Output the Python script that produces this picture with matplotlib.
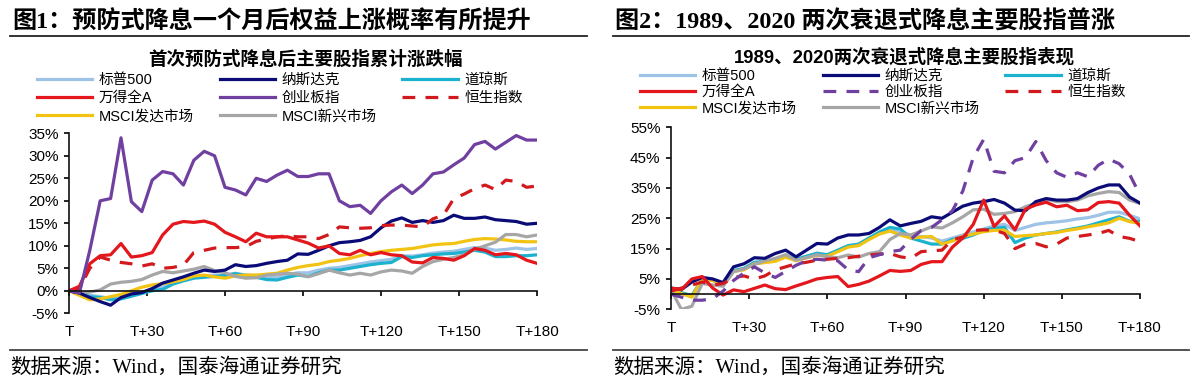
import numpy as np
import matplotlib
matplotlib.use("Agg")
import matplotlib.pyplot as plt
from matplotlib.lines import Line2D

plt.rcParams['font.family'] = ['Liberation Sans', 'Noto Sans CJK SC', 'DejaVu Sans']

# trading-day offsets after the cut, read every 4 days
days = np.arange(0, 181, 4)
xticks = [0, 30, 60, 90, 120, 150, 180]
xticklabels = ['T', 'T+30', 'T+60', 'T+90', 'T+120', 'T+150', 'T+180']

names = ['标普500', '纳斯达克', '道琼斯', '万得全A', '创业板指', '恒生指数', 'MSCI发达市场', 'MSCI新兴市场']

# chart 1: first preventive cut (%)
l_spx = [0, -0.3, -1, -1.3, -1.7, -1.4, -0.9, -0.3, 0.3, 0.8, 1.8, 2.5, 3, 3.3, 3.5, 3.5, 3.9, 3.5, 3.4, 3, 3, 3.6, 4, 4, 4.6, 5, 5.2, 5.6, 6, 6.4, 6.7, 7, 7.8, 7.7, 8, 8.4, 8.6, 8.8, 9.2, 9.6, 9.5, 9, 9.2, 9.5, 9.2, 9.4]
l_ndx = [0, -0.5, -1.5, -2.4, -3.2, -1.5, -0.7, -0.4, 0.5, 1.7, 2.4, 3.1, 3.9, 4.6, 4.3, 4.6, 5.8, 5.4, 5.6, 6.1, 6.5, 6.8, 8.2, 8.1, 9, 10, 10.7, 10.9, 11.2, 12, 14, 15.5, 16.2, 15.2, 15.6, 15.2, 15.6, 16.8, 16.1, 16.1, 16.4, 15.8, 15.6, 15.4, 14.8, 15]
l_dji = [0, -0.5, -1.3, -1.5, -2, -1.8, -1.2, -0.6, 0, 0.3, 1.5, 2.2, 2.8, 3, 3.2, 3.4, 3.8, 3.4, 3, 2.5, 2.4, 3, 3.5, 3.2, 4, 4.6, 4.6, 5, 5.4, 5.8, 6.1, 6.3, 7.6, 7.4, 7.8, 8, 8.2, 8.3, 8.6, 9, 8.6, 7.6, 7.6, 7.8, 7.8, 8]
l_wind = [0, 1, 6, 7.8, 8, 10.5, 7.5, 7.8, 8.5, 12.4, 14.8, 15.4, 15.2, 15.5, 14.8, 13, 12, 10.9, 12.8, 12, 12, 12, 11.3, 10.6, 9.5, 10, 8.3, 8, 9, 8, 8.5, 8, 7.8, 6.4, 6.2, 7.4, 7.2, 6.8, 7.8, 9.4, 9, 8, 8.3, 8, 6.8, 6.1]
l_cyb = [0, -0.5, 9, 20, 20.5, 34, 19.8, 17.6, 24.6, 26.5, 26, 23.5, 29, 31, 30, 23, 22.4, 21.3, 25, 24.3, 25.7, 26.8, 25.4, 25.4, 26, 26, 20, 18.7, 19, 17.2, 20, 22, 23.5, 21.6, 23.5, 26, 26.4, 28, 29.5, 32.5, 33.2, 31.5, 33, 34.5, 33.5, 33.5]
l_hsi = [0, 0.5, 5, 7.5, 6.8, 6.3, 6, 5.5, 6, 5, 5.2, 5.7, 8.5, 9, 9.5, 9.6, 9.6, 9.8, 11, 11.5, 12, 12.2, 12, 12, 11.6, 12.5, 14.2, 14, 13.9, 14, 14.5, 14.6, 14.6, 14.4, 14.2, 16, 16.8, 20.5, 21.5, 22.7, 23.5, 22.5, 24.6, 24.3, 23, 23.3]
l_dm = [0, -1, -2, -1.8, -1.3, -0.8, 0, 0.8, 1.3, 1.6, 2, 2.5, 3.3, 3.5, 3.1, 2.8, 3.3, 3.5, 3.5, 3.7, 3.9, 4.6, 5.2, 5.6, 5.9, 6.5, 6.8, 7.2, 7.8, 8.3, 8.7, 9, 9.2, 9.4, 9.8, 10.2, 10.4, 10.5, 11, 11.4, 11.6, 11.5, 11.3, 11, 10.9, 10.9]
l_em = [0, -0.5, -0.3, 0.2, 1.5, 1.9, 2.1, 2.5, 3.5, 4.3, 4, 4.4, 4.8, 5.4, 4.5, 4, 3.2, 2.8, 2.9, 3.5, 3.7, 3.9, 3.7, 3.1, 3.8, 4.6, 4, 3.5, 3.9, 3.5, 4.2, 4.6, 4.4, 3.9, 5.4, 6.5, 7, 7.4, 8, 9.2, 10, 10.8, 12.5, 12.5, 12, 12.4]

# chart 2: 1989 / 2020 recession cuts (%)
r_spx = [1.5, 0.3, -0.8, 4.8, 4.5, 2.8, 7.5, 8.2, 10.2, 10.5, 11.2, 12.5, 11.3, 12.2, 13.2, 12.8, 14.2, 15.8, 16.3, 18.3, 20.2, 21.5, 20.5, 19.5, 19, 18.5, 17.5, 18.5, 19.5, 20.5, 21.5, 22.5, 23, 21, 22, 23, 23.5, 23.8, 24.2, 24.8, 25.2, 26, 27, 27, 26, 24.8]
r_ndx = [2, 1.5, 4, 5.5, 5, 3.8, 9, 10, 12, 11.8, 13.4, 14.5, 12.3, 14.5, 16.7, 16.5, 18.5, 19.5, 19.5, 20, 22, 24.5, 22.5, 23.3, 24, 25.5, 25, 27, 29, 30, 30.5, 31.2, 30, 27.7, 27.5, 30.5, 31.5, 31, 31, 31.5, 33.5, 35, 36, 36, 32, 30]
r_dji = [1.5, 0.5, -0.5, 5, 4.8, 3, 7.8, 8.5, 10.5, 10.8, 11.5, 12.8, 11.5, 12.5, 13.5, 13, 14.5, 16, 16.5, 18.5, 20.5, 22, 21.5, 18.5, 17.5, 16.5, 16.5, 18, 18.4, 19.5, 21, 21.8, 22, 17, 18.5, 19.5, 20, 20.5, 21.2, 21.8, 22.5, 23.5, 24.5, 25.5, 24, 24]
r_wind = [2, 1.5, 5, 5.8, 2, -0.3, 1.4, 0.8, 1.9, 3, 1.8, 1.5, 2.7, 3.8, 5, 5.5, 5.8, 2.5, 3.2, 4.3, 6, 7.8, 7.5, 7.8, 9.8, 10.7, 10.7, 15.5, 18.5, 23, 31, 22.3, 25.8, 21.2, 28, 29.4, 30.3, 28.8, 29.3, 27.5, 27.8, 30.2, 30.5, 30, 26, 22.5]
r_cyb = [0, -1, -2, -2, -1.5, 1, 4.5, 7, 9, 7, 5.5, 7.5, 9.5, 11, 11.5, 11.2, 11, 8, 7.4, 12, 13, 14, 14.5, 18, 21, 22, 24.5, 27.5, 34, 45, 51, 40.5, 40, 44, 45, 50.3, 44, 40, 38.5, 40, 38.7, 42.5, 44.5, 43, 39.5, 32.7]
r_hsi = [1, 2, 3, 4, 3, 3.5, 5.5, 6, 5, 6, 8, 9, 10, 10.5, 11.2, 11.5, 11.8, 12, 12.5, 12.9, 13.2, 13.4, 12.3, 11.8, 14, 14.3, 14.5, 18, 18.8, 21, 21.2, 21.1, 20, 15, 16.5, 16.7, 15.6, 16.5, 18.5, 19, 19.5, 20, 21, 19, 18.4, 17.3]
r_dm = [1.5, 0.2, -1, 5, 4.5, 3.2, 7.5, 8, 10, 10.4, 10.8, 12.2, 11, 12, 12.8, 12.5, 14, 15.5, 16, 18, 19.8, 20.8, 19.5, 18.5, 18.8, 19, 16.5, 17.5, 19, 19.8, 20.6, 21, 21.1, 19, 19.3, 19.5, 20, 20.3, 21, 21.5, 22.2, 22.8, 23.5, 25, 23.9, 23.3]
r_em = [1.4, -5, -4, 3.5, 3, 2.6, 7.4, 8.3, 9.8, 11, 11.8, 13, 11.2, 12, 13, 12.3, 12, 12.9, 12.2, 13.4, 14, 18, 20, 19.5, 20.8, 22.2, 21.8, 23.5, 25.5, 27.8, 28, 26.3, 26.6, 27.2, 28.8, 29.9, 31.3, 30.5, 30.5, 31, 32.4, 33.2, 33.8, 33.5, 31, 29.9]

colors = {'标普500': '#9DC3E6', '纳斯达克': '#0B0B78', '道琼斯': '#1BB2CF', '万得全A': '#E3171C',
          '创业板指': '#7040A0', '恒生指数': '#D21A1E', 'MSCI发达市场': '#F2C313', 'MSCI新兴市场': '#A6A6A6'}
draw_order = ['标普500', '道琼斯', 'MSCI发达市场', 'MSCI新兴市场', '纳斯达克', '恒生指数', '万得全A', '创业板指']
legend_order = ['标普500', '万得全A', 'MSCI发达市场', '纳斯达克', '创业板指', 'MSCI新兴市场', '道琼斯', '恒生指数']

W, H = 1200, 382
fig = plt.figure(figsize=(12, 3.82), dpi=100)


def px_box(x0, x1, ytop, ybot):
    return [x0 / W, 1 - ybot / H, (x1 - x0) / W, (ybot - ytop) / H]


def draw_panel(ax, series, dashed, ylim, yticks, xpad):
    handles = {}
    for n in draw_order:
        ls = (0, (4, 3.2)) if n in dashed else '-'
        h, = ax.plot(days, series[n], color=colors[n], lw=2.3, ls=ls, solid_joinstyle='round')
        handles[n] = h
    ax.set_xlim(0, 180)
    ax.set_ylim(*ylim)
    ax.set_yticks(yticks)
    ax.set_yticklabels(['%d%%' % v for v in yticks])
    ax.set_xticks(xticks)
    ax.set_xticklabels(xticklabels)
    for s in ['top', 'right']:
        ax.spines[s].set_visible(False)
    ax.spines['bottom'].set_position(('data', 0))
    for s in ['left', 'bottom']:
        ax.spines[s].set_linewidth(1.2)
        ax.spines[s].set_color('#111111')
    ax.tick_params(axis='y', direction='out', length=3.5, width=1.2, labelsize=11, pad=4)
    ax.tick_params(axis='x', direction='out', length=3.5, width=1.2, labelsize=11, pad=xpad)
    ax.patch.set_alpha(0)
    return handles


ax1 = fig.add_axes(px_box(69, 537, 133.3, 313.3))
s1 = dict(zip(names, [l_spx, l_ndx, l_dji, l_wind, l_cyb, l_hsi, l_dm, l_em]))
h1 = draw_panel(ax1, s1, ['恒生指数'], (-5, 35), list(range(-5, 36, 5)), 21)

ax2 = fig.add_axes(px_box(671, 1140, 127.3, 309.3))
s2 = dict(zip(names, [r_spx, r_ndx, r_dji, r_wind, r_cyb, r_hsi, r_dm, r_em]))
h2 = draw_panel(ax2, s2, ['创业板指', '恒生指数'], (-5, 55), list(range(-5, 56, 10)), 16)

for hd, x0, y0, sp in [(h1, 37, 73, 0.29), (h2, 640, 69, 0.15)]:
    fig.legend([hd[n] for n in legend_order], legend_order, ncol=3, loc='upper left',
               bbox_to_anchor=(x0 / W, 1 - y0 / H), frameon=False, fontsize=10.5,
               handlelength=3.8, handletextpad=0.45, columnspacing=1.75, labelspacing=sp,
               borderpad=0, borderaxespad=0)

# headers, rules and source notes
title_font = ['Liberation Serif', 'Noto Sans CJK SC']
fig.text(12 / W, 1 - 22 / H, '图1：预防式降息一个月后权益上涨概率有所提升', fontsize=17.4,
         fontweight='bold', family=title_font, va='center', ha='left')
fig.text(615 / W, 1 - 22 / H, '图2：1989、2020 两次衰退式降息主要股指普涨', fontsize=17.4,
         fontweight='bold', family=title_font, va='center', ha='left')
fig.text(305 / W, 1 - 60 / H, '首次预防式降息后主要股指累计涨跌幅', fontsize=13.3,
         fontweight='bold', va='center', ha='center')
fig.text(904 / W, 1 - 57 / H, '1989、2020两次衰退式降息主要股指表现', fontsize=13.3,
         fontweight='bold', va='center', ha='center')
for x0, x1 in [(10, 587), (613, 1189)]:
    fig.add_artist(Line2D([x0 / W, x1 / W], [1 - 36 / H] * 2, color='#222222', lw=1.3))
    fig.add_artist(Line2D([x0 / W, x1 / W], [1 - 350 / H] * 2, color='#444444', lw=1.3))
fig.text(10 / W, 1 - 368 / H, '数据来源：Wind，国泰海通证券研究', fontsize=14.8,
         family=title_font, va='center', ha='left')
fig.text(613 / W, 1 - 368 / H, '数据来源：Wind，国泰海通证券研究', fontsize=14.8,
         family=title_font, va='center', ha='left')

fig.savefig('out.png', dpi=100)
